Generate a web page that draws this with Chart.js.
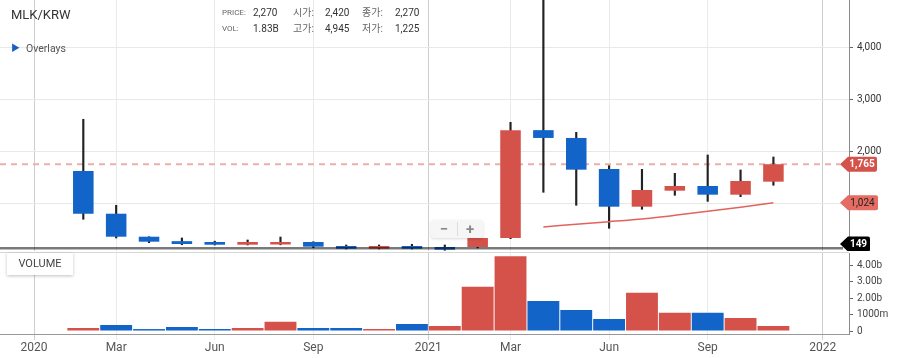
<!DOCTYPE html>
<html><head><meta charset="utf-8">
<script src="https://cdn.jsdelivr.net/npm/chart.js@4/dist/chart.umd.min.js"></script>
<style>
html,body{margin:0;padding:0;background:#fff;}
#wrap{position:relative;width:901px;height:358px;overflow:hidden;font-family:Roboto,'Noto Sans CJK KR',sans-serif;}
#pricebox{position:absolute;left:0;top:0;width:901px;height:251px;}
#volbox{position:absolute;left:0;top:250px;width:901px;height:108px;}
.t{position:absolute;white-space:nowrap;line-height:1;pointer-events:none;}
.lab{font-size:10px;color:#666;}
.sm{font-size:8px;color:#666;}
.val{font-size:10px;color:#333;}
#volume-tag{position:absolute;left:7px;top:253px;width:66px;height:22px;background:#fff;box-shadow:0 1px 3px rgba(0,0,0,0.25);font-size:11px;color:#444;text-align:center;line-height:22px;}
#zoomctl{position:absolute;left:431px;top:220px;width:52px;height:18px;background:#f6f6f6;border-radius:3px;box-shadow:0 1px 3px rgba(0,0,0,0.15);}
#zoomctl span{position:absolute;top:0;width:26px;height:18px;line-height:18px;text-align:center;font-size:15px;font-weight:bold;color:#8a8a8a;}
#zoomctl i{position:absolute;left:26px;top:2px;width:1px;height:14px;background:#ddd;}
</style></head><body>
<div id="wrap">
  <div id="pricebox"><canvas id="price"></canvas></div>
  <div id="volbox"><canvas id="vol"></canvas></div>

  <div class="t" style="left:11px;top:8px;font-size:13px;color:#333;">MLK/KRW</div>
  <div class="t sm" style="left:222px;top:9px;">PRICE:</div>
  <div class="t val" style="left:253px;top:8px;">2,270</div>
  <div class="t lab" style="left:293px;top:8px;">시가:</div>
  <div class="t val" style="left:325px;top:8px;">2,420</div>
  <div class="t lab" style="left:362px;top:8px;">종가:</div>
  <div class="t val" style="left:395px;top:8px;">2,270</div>
  <div class="t sm" style="left:222px;top:25px;">VOL:</div>
  <div class="t val" style="left:253px;top:24px;">1.83B</div>
  <div class="t lab" style="left:293px;top:24px;">고가:</div>
  <div class="t val" style="left:325px;top:24px;">4,945</div>
  <div class="t lab" style="left:362px;top:24px;">저가:</div>
  <div class="t val" style="left:395px;top:24px;">1,225</div>

  <div class="t" style="left:11px;top:44px;font-size:9px;color:#1a5fc8;">&#9654;</div>
  <div class="t" style="left:26px;top:44px;font-size:10.5px;color:#555;">Overlays</div>

  <div id="volume-tag">VOLUME</div>
  <div id="zoomctl"><span style="left:0">&minus;</span><i></i><span style="left:26px">+</span></div>
</div>
<script>
// ---- data ----
const months = ['2020-02','2020-03','2020-04','2020-05','2020-06','2020-07','2020-08','2020-09','2020-10','2020-11','2020-12',
                '2021-01','2021-02','2021-03','2021-04','2021-05','2021-06','2021-07','2021-08','2021-09','2021-10','2021-11'];
const openP  = [1635, 813, 371, 285, 269, 217, 221, 269, 192, 140, 192, 173, 173, 346, 2420, 2270, 1673, 948, 1256, 1346, 1179, 1429];
const highP  = [2629, 975, 371, 346, 285, 308, 365, 275, 212, 212, 225, 212, 360, 2571, 4945, 2378, 1737, 1667, 1590, 1942, 1654, 1904];
const lowP   = [ 706, 346, 256, 217, 212, 212, 215, 160, 135, 135, 135, 110, 155,  333, 1225,  975,  533,  898, 1167, 1051, 1141, 1360];
const closeP = [ 813, 371, 275, 231, 217, 269, 269, 179, 140, 192, 140, 121, 346, 2420, 2270, 1660,  948, 1269, 1346, 1179, 1442, 1765];
const volume = [0.18e9, 0.37e9, 0.12e9, 0.25e9, 0.12e9, 0.18e9, 0.57e9, 0.18e9, 0.18e9, 0.12e9, 0.43e9,
                0.31e9, 2.70e9, 4.56e9, 1.83e9, 1.29e9, 0.74e9, 2.33e9, 1.12e9, 1.12e9, 0.80e9, 0.31e9];
const volumeUp = [true,false,false,false,false,true,true,false,false,true,false,
                  true,true,true,false,false,false,true,true,false,true,true];
const maMonths = ['2021-04','2021-05','2021-06','2021-07','2021-08','2021-09','2021-10','2021-11'];
const maValues = [558, 610, 660, 712, 783, 860, 937, 1024];
const baseLevel = 149;
const xTickMonths = ['2020-01','2020-03','2020-06','2020-09','2021-01','2021-03','2021-06','2021-09','2022-01'];
const xTickLabels = ['2020','Mar','Jun','Sep','2021','Mar','Jun','Sep','2022'];
const priceTicks = [1000, 2000, 3000, 4000];
const volTicks = [0, 1e9, 2e9, 3e9, 4e9];
const volTickLabels = ['0', '1000m', '2.00b', '3.00b', '4.00b'];

// ---- helpers ----
const RED = '#d4524a', BLUE = '#1364c8';
const monthIndex = s => { const [y, m] = s.split('-').map(Number); return (y - 2020) * 12 + (m - 1); };
const xTickPos = xTickMonths.map(m => m.endsWith('-01') ? monthIndex(m) - 0.5 : monthIndex(m));
const X_MIN = -1.535, X_MAX = 24.30, Y_MIN = 96, Y_MAX = 4923;
const FONT = "Roboto, 'Noto Sans CJK KR', sans-serif";
Chart.defaults.font.family = FONT;
Chart.defaults.animation = false;

const gridColor = c => (c.tick && !Number.isInteger(c.tick.value)) ? '#cdcdcd' : '#ebebeb';
const zeroPad = s => { s.paddingTop = 0; s.paddingBottom = 0; s.paddingLeft = 0; s.paddingRight = 0; };
// tick labels hidden where a price tag sits on top of them (as in the original)
const tagValues = [maValues[maValues.length - 1], closeP[closeP.length - 1]];
const coveredByTag = v => tagValues.some(t => Math.abs(t - v) < 150);

function tag(ctx, area, y, text, bg, fg, bold, w) {
  const tip = area.right - 9, x0 = area.right - 1, h = 15;
  y = Math.min(y, area.bottom - h / 2 + 0.5);
  ctx.save();
  ctx.beginPath();
  ctx.moveTo(tip, y);
  ctx.lineTo(x0, y - h / 2);
  ctx.lineTo(x0 + w - 2, y - h / 2);
  ctx.quadraticCurveTo(x0 + w, y - h / 2, x0 + w, y - h / 2 + 2);
  ctx.lineTo(x0 + w, y + h / 2 - 2);
  ctx.quadraticCurveTo(x0 + w, y + h / 2, x0 + w - 2, y + h / 2);
  ctx.lineTo(x0, y + h / 2);
  ctx.closePath();
  ctx.fillStyle = bg; ctx.fill();
  ctx.fillStyle = fg;
  ctx.font = (bold ? 'bold ' : '') + '10px ' + FONT;
  ctx.textAlign = 'center'; ctx.textBaseline = 'middle';
  ctx.fillText(text, x0 + w / 2 - 0.5, y + 0.5);
  ctx.restore();
}

const pricePlugin = {
  id: 'priceExtras',
  beforeDatasetsDraw(chart) {
    const {ctx, chartArea: a, scales: {y}} = chart;
    const py = y.getPixelForValue(closeP[closeP.length - 1]);
    ctx.save();
    ctx.strokeStyle = '#ebb0ab'; ctx.lineWidth = 2; ctx.setLineDash([6, 5]);
    ctx.beginPath(); ctx.moveTo(a.left, py); ctx.lineTo(a.right - 9, py); ctx.stroke();
    ctx.restore();
  },
  afterDatasetsDraw(chart) {
    const {ctx, chartArea: a, scales: {y}} = chart;
    const by = y.getPixelForValue(baseLevel);
    ctx.save();
    ctx.strokeStyle = 'rgba(0,0,0,0.52)'; ctx.lineWidth = 2.5;
    ctx.beginPath(); ctx.moveTo(a.left, by); ctx.lineTo(a.right - 6, by); ctx.stroke();
    ctx.restore();
  },
  afterDraw(chart) {
    const {ctx, chartArea: a, scales: {y}} = chart;
    const last = closeP[closeP.length - 1], ma = maValues[maValues.length - 1];
    tag(ctx, a, y.getPixelForValue(ma), ma.toLocaleString('en-US'), '#e46c63', '#222', false, 30);
    tag(ctx, a, y.getPixelForValue(last), last.toLocaleString('en-US'), RED, '#fff', true, 29);
    tag(ctx, a, y.getPixelForValue(baseLevel), String(baseLevel), '#000', '#fff', true, 22);
  }
};

new Chart(document.getElementById('price'), {
  data: {
    datasets: [
      { type: 'line', data: maMonths.map((m, i) => ({x: monthIndex(m), y: maValues[i]})),
        borderColor: '#e2635b', borderWidth: 1.5, pointRadius: 0, tension: 0.25, order: 0 },
      { type: 'bar', grouped: false, order: 1,
        data: months.map((m, i) => ({x: monthIndex(m), y: [openP[i], closeP[i]]})),
        backgroundColor: months.map((m, i) => closeP[i] >= openP[i] ? RED : BLUE),
        barPercentage: 0.625, categoryPercentage: 1, borderWidth: 0 },
      { type: 'bar', grouped: false, order: 2,
        data: months.map((m, i) => ({x: monthIndex(m), y: [lowP[i], highP[i]]})),
        backgroundColor: '#222', barThickness: 1.5, borderWidth: 0 }
    ]
  },
  options: {
    responsive: true, maintainAspectRatio: false, animation: false, events: [],
    layout: { padding: 0, autoPadding: false },
    plugins: { legend: { display: false }, tooltip: { enabled: false } },
    scales: {
      x: { type: 'linear', min: X_MIN, max: X_MAX, offset: false,
        afterBuildTicks: s => { s.ticks = xTickPos.map(v => ({value: v})); },
        afterFit: s => { s.height = 0; zeroPad(s); },
        ticks: { display: false, autoSkip: false },
        grid: { color: gridColor, drawTicks: false, lineWidth: 1, offset: false },
        border: { display: false } },
      y: { type: 'linear', position: 'right', min: Y_MIN, max: Y_MAX,
        afterBuildTicks: s => { s.ticks = priceTicks.map(v => ({value: v})); },
        afterFit: s => { s.width = 52; zeroPad(s); },
        ticks: { color: '#333', font: { size: 10 }, padding: 4,
                 callback: v => coveredByTag(v) ? '' : v.toLocaleString('en-US') },
        grid: { color: '#e8e8e8', tickColor: '#666', tickLength: 4 },
        border: { color: '#8a8a8a' } }
    }
  },
  plugins: [pricePlugin]
});

const volPlugin = {
  id: 'volExtras',
  beforeDatasetsDraw(chart) {
    const {ctx, chartArea: a} = chart;
    ctx.save();
    ctx.strokeStyle = '#d8d8d8'; ctx.lineWidth = 1;
    ctx.beginPath(); ctx.moveTo(a.left, a.top - 0.5); ctx.lineTo(a.right, a.top - 0.5); ctx.stroke();
    ctx.restore();
  }
};

new Chart(document.getElementById('vol'), {
  type: 'bar',
  data: {
    datasets: [{
      data: months.map((m, i) => ({x: monthIndex(m), y: volume[i]})),
      backgroundColor: volumeUp.map(u => u ? RED : BLUE),
      barPercentage: 0.97, categoryPercentage: 1, borderWidth: 0
    }]
  },
  options: {
    responsive: true, maintainAspectRatio: false, animation: false, events: [],
    layout: { padding: { top: 3, left: 0, right: 0, bottom: 0 }, autoPadding: false },
    plugins: { legend: { display: false }, tooltip: { enabled: false } },
    scales: {
      x: { type: 'linear', min: X_MIN, max: X_MAX, offset: false,
        afterBuildTicks: s => { s.ticks = xTickPos.map(v => ({value: v})); },
        afterFit: s => { s.height = 24; zeroPad(s); },
        ticks: { autoSkip: false, maxRotation: 0, color: '#555', font: { size: 12 }, padding: 1,
                 callback: (v, i) => xTickLabels[i] },
        grid: { color: gridColor, tickLength: 6, lineWidth: 1, offset: false },
        border: { color: '#999' } },
      y: { type: 'linear', position: 'right', min: -0.18e9, max: 4.756e9,
        afterBuildTicks: s => { s.ticks = volTicks.map(v => ({value: v})); },
        afterFit: s => { s.width = 52; zeroPad(s); },
        ticks: { color: '#444', font: { size: 10 }, padding: 4, callback: (v, i) => volTickLabels[i] },
        grid: { drawOnChartArea: false, tickColor: '#666', tickLength: 4 },
        border: { color: '#8a8a8a' } }
    }
  },
  plugins: [volPlugin]
});
</script>
</body></html>
